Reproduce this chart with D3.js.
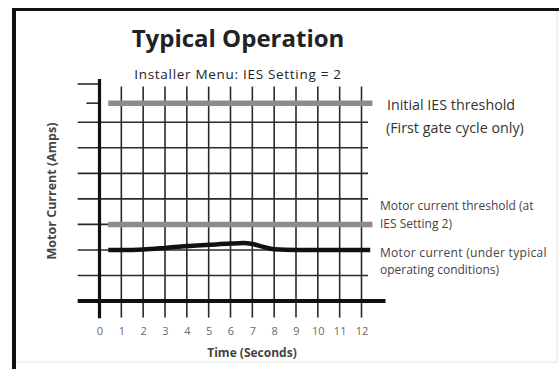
<!DOCTYPE html>
<html>
<head>
<meta charset="utf-8">
<script src="https://cdn.jsdelivr.net/npm/d3@7"></script>
<style>
  html, body { margin: 0; padding: 0; background: #fff; }
  svg { display: block; }
  text { font-family: "Open Sans", Lato, sans-serif; }
</style>
</head>
<body>
<div id="chart"></div>
<script>
// Time axis (seconds) and tick labels
const timeTicks = [0, 1, 2, 3, 4, 5, 6, 7, 8, 9, 10, 11, 12];
// Current levels (arbitrary amp units) for horizontal grid lines
const gridLevels = [1, 2, 3, 4, 5, 6, 7];

// Threshold levels
const initialIesThreshold = 7.75;
const motorCurrentThreshold = 3.0;
const thresholdStart = 0.4;
const thresholdEnd = 12.5;

// Motor current under typical operating conditions
const motorTime    = [0.4, 1, 2, 3, 4, 5, 6, 6.6, 7, 7.5, 8, 9, 10, 11, 12.4];
const motorCurrent = [2.0, 2.0, 2.02, 2.08, 2.15, 2.2, 2.25, 2.27, 2.23, 2.12, 2.03, 2.0, 2.0, 2.0, 2.0];

const W = 559, H = 369;
const svg = d3.select("#chart").append("svg")
  .attr("width", W).attr("height", H);

// Page frame
svg.append("rect").attr("x", 0).attr("y", 0).attr("width", W).attr("height", H).attr("fill", "#fff");
svg.append("line").attr("x1", 557).attr("x2", 557).attr("y1", 10).attr("y2", 362)
  .attr("stroke", "#e4e4e4").attr("stroke-width", 1);
svg.append("line").attr("x1", 14).attr("x2", 557).attr("y1", 362).attr("y2", 362)
  .attr("stroke", "#e6e6e6").attr("stroke-width", 1);
svg.append("line").attr("x1", 12).attr("x2", W).attr("y1", 9.5).attr("y2", 9.5)
  .attr("stroke", "#111").attr("stroke-width", 3);
svg.append("line").attr("x1", 14).attr("x2", 14).attr("y1", 8).attr("y2", H)
  .attr("stroke", "#111").attr("stroke-width", 4);

// Scales
const x = d3.scaleLinear().domain([0, 12]).range([99.5, 361.5]);
const y = d3.scaleLinear().domain([0, 8.5]).range([301, 84]);

const g = svg.append("g");

// Vertical grid lines
g.selectAll("line.vgrid").data(timeTicks.filter(t => t > 0)).join("line")
  .attr("class", "vgrid")
  .attr("x1", d => x(d)).attr("x2", d => x(d))
  .attr("y1", y(8.4)).attr("y2", y(-0.65))
  .attr("stroke", "#2a2a2a").attr("stroke-width", 1.6);

// Horizontal grid lines
g.selectAll("line.hgrid").data(gridLevels).join("line")
  .attr("class", "hgrid")
  .attr("x1", x(-1)).attr("x2", x(12.3))
  .attr("y1", d => y(d)).attr("y2", d => y(d))
  .attr("stroke", "#2a2a2a").attr("stroke-width", 1.6);

// Upper tick marks on the current axis
g.append("line").attr("x1", x(-1)).attr("x2", x(0))
  .attr("y1", y(8.5)).attr("y2", y(8.5)).attr("stroke", "#2a2a2a").attr("stroke-width", 1.6);
g.append("line").attr("x1", x(-0.6)).attr("x2", x(0))
  .attr("y1", y(initialIesThreshold)).attr("y2", y(initialIesThreshold))
  .attr("stroke", "#2a2a2a").attr("stroke-width", 1.6);

// Current axis (vertical)
g.append("line").attr("x1", x(0)).attr("x2", x(0))
  .attr("y1", y(8.7)).attr("y2", y(-0.68))
  .attr("stroke", "#111").attr("stroke-width", 3.2);

// Time axis (horizontal, heavy)
g.append("line").attr("x1", x(-1)).attr("x2", x(13.1))
  .attr("y1", y(0)).attr("y2", y(0))
  .attr("stroke", "#111").attr("stroke-width", 4);

// Threshold lines
const thresholds = [initialIesThreshold, motorCurrentThreshold];
g.selectAll("line.thr").data(thresholds).join("line")
  .attr("class", "thr")
  .attr("x1", x(thresholdStart)).attr("x2", x(thresholdEnd))
  .attr("y1", d => y(d)).attr("y2", d => y(d))
  .attr("stroke", "#8c8c8c").attr("stroke-width", 5.5);

// Motor current curve
const motorData = motorTime.map((t, i) => [t, motorCurrent[i]]);
g.append("path").datum(motorData)
  .attr("d", d3.line().x(d => x(d[0])).y(d => y(d[1])).curve(d3.curveMonotoneX))
  .attr("fill", "none").attr("stroke", "#111").attr("stroke-width", 4.5)
  .attr("stroke-linecap", "butt");

// Time tick labels
const xAxis = d3.axisBottom(x).tickValues(timeTicks).tickSize(0).tickPadding(0);
const xa = svg.append("g").attr("transform", `translate(0, 327)`).call(xAxis);
xa.select(".domain").remove();
xa.selectAll("text").attr("fill", "#6a6a6a").attr("font-size", 11)
  .attr("font-family", "'Open Sans', Lato, sans-serif");

// Axis titles
svg.append("text").attr("x", 252).attr("y", 357).attr("text-anchor", "middle")
  .attr("font-size", 12).attr("font-weight", "bold").attr("fill", "#444")
  .text("Time (Seconds)");
svg.append("text").attr("transform", "translate(56,191) rotate(-90)")
  .attr("text-anchor", "middle").attr("font-size", 12.5).attr("font-weight", "bold").attr("fill", "#444")
  .text("Motor Current (Amps)");

// Titles
svg.append("text").attr("x", 238).attr("y", 47).attr("text-anchor", "middle")
  .attr("font-size", 24).attr("font-weight", "bold").attr("fill", "#222")
  .text("Typical Operation");
svg.append("text").attr("x", 238).attr("y", 79).attr("text-anchor", "middle")
  .attr("font-size", 13.5).attr("letter-spacing", 0.7).attr("fill", "#222")
  .text("Installer Menu: IES Setting = 2");

// Annotations
const ann = svg.append("g").attr("fill", "#333");
ann.append("text").attr("x", 387).attr("y", 110).attr("font-size", 14.3).text("Initial IES threshold");
ann.append("text").attr("x", 386).attr("y", 133).attr("font-size", 14.3).text("(First gate cycle only)");
ann.append("text").attr("x", 380).attr("y", 210).attr("font-size", 12).attr("fill", "#444").text("Motor current threshold (at");
ann.append("text").attr("x", 380).attr("y", 228).attr("font-size", 12).attr("fill", "#444").text("IES Setting 2)");
ann.append("text").attr("x", 380).attr("y", 257).attr("font-size", 12).attr("letter-spacing", 0.3).attr("fill", "#444").text("Motor current (under typical");
ann.append("text").attr("x", 380).attr("y", 274).attr("font-size", 12).attr("fill", "#444").text("operating conditions)");
</script>
</body>
</html>
